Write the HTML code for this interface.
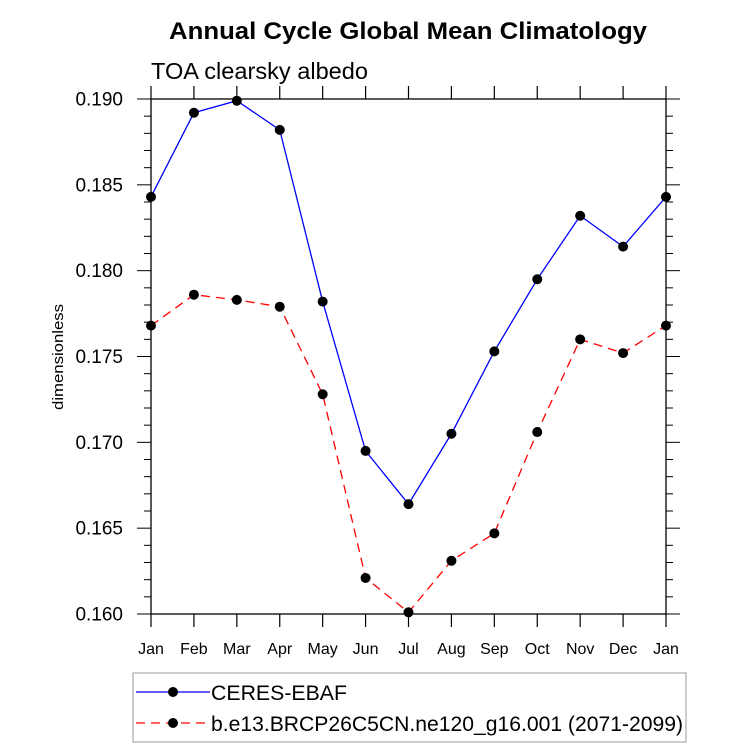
<!DOCTYPE html>
<html><head><meta charset="utf-8"><style>
body{margin:0;background:#fff;}
text{font-family:"Liberation Sans",Arial,sans-serif;}
</style></head><body>
<svg id="chart" width="733" height="748" xmlns="http://www.w3.org/2000/svg">
<text x="169" y="39" font-size="24" font-weight="bold" textLength="478" lengthAdjust="spacingAndGlyphs">Annual Cycle Global Mean Climatology</text>
<text x="151" y="79" font-size="23" textLength="217" lengthAdjust="spacingAndGlyphs">TOA clearsky albedo</text>
<text transform="translate(63,357) rotate(-90)" text-anchor="middle" font-size="15" textLength="106" lengthAdjust="spacingAndGlyphs">dimensionless</text>
<g id="axes"></g>
<g id="series"></g>
<g>
<rect x="133" y="673" width="553" height="69" fill="none" stroke="#999" stroke-width="1"/>
<g>
<line x1="136" y1="692" x2="210" y2="692" stroke="#00f" stroke-width="1.3"/>
<circle cx="173" cy="692" r="5" fill="#000"/>
<text x="211" y="700" font-size="21" textLength="136" lengthAdjust="spacingAndGlyphs">CERES-EBAF</text>
</g>
<g>
<line x1="136" y1="723" x2="210" y2="723" stroke="#f00" stroke-width="1.3" stroke-dasharray="9,6"/>
<circle cx="173" cy="723" r="5" fill="#000"/>
<text x="211" y="731" font-size="21" textLength="472" lengthAdjust="spacingAndGlyphs">b.e13.BRCP26C5CN.ne120_g16.001 (2071-2099)</text>
</g>
</g>
</svg>
<script>
const months = ["Jan","Feb","Mar","Apr","May","Jun","Jul","Aug","Sep","Oct","Nov","Dec","Jan"];
const ceres = [0.1843,0.1892,0.1899,0.1882,0.1782,0.1695,0.1664,0.1705,0.1753,0.1795,0.1832,0.1814,0.1843];
const model = [0.1768,0.1786,0.1783,0.1779,0.1728,0.1621,0.1601,0.1631,0.1647,0.1706,0.1760,0.1752,0.1768];
const yTicks = [0.160,0.165,0.170,0.175,0.180,0.185,0.190];
const yMin = 0.160, yMax = 0.190;
const L=151,R=666,T=99,B=614;
const NS="http://www.w3.org/2000/svg";
const xs = i => L + i*(R-L)/(months.length-1);
const ys = v => B - (v-yMin)/(yMax-yMin)*(B-T);
function mk(tag,attrs,parent){const e=document.createElementNS(NS,tag);for(const k in attrs)e.setAttribute(k,attrs[k]);parent.appendChild(e);return e;}
const ax=document.getElementById('axes');
const frame=mk('rect',{x:L,y:T,width:R-L,height:B-T,fill:'none',stroke:'#000','stroke-width':1.3},ax);


months.forEach((m,i)=>{
  const x=xs(i);
  const tb=mk('line',{x1:x,y1:B,x2:x,y2:B+13,stroke:'#000','stroke-width':1.2},ax);
  
  
  const tt=mk('line',{x1:x,y1:T,x2:x,y2:T-13,stroke:'#000','stroke-width':1.2},ax);
  
  
  const t=mk('text',{x:x,y:654,'text-anchor':'middle','font-size':16},ax);
  t.textContent=m;
  
  
});
for(let k=0;k<=30;k++){
  const v=yMin+k*0.001, y=ys(v), major=(k%5===0), len=major?14:7;
  const a=mk('line',{x1:L,y1:y,x2:L-len,y2:y,stroke:'#000','stroke-width':1},ax);
  
  
  const b=mk('line',{x1:R,y1:y,x2:R+len,y2:y,stroke:'#000','stroke-width':1},ax);
  
  
}
yTicks.forEach(v=>{
  const t=mk('text',{x:123,y:ys(v)+6.5,'text-anchor':'end','font-size':19},ax);
  t.textContent=v.toFixed(3);
  
  
});
const sg=document.getElementById('series');
function drawSeries(data,color,dash,name){
  const g=mk('g',{},sg);
  
  
  const p=mk('polyline',{points:data.map((v,i)=>xs(i)+','+ys(v)).join(' '),fill:'none',stroke:color,'stroke-width':1.3},g);
  if(dash)p.setAttribute('stroke-dasharray',dash);
  
  
  data.forEach((v,i)=>{
    const c=mk('circle',{cx:xs(i),cy:ys(v),r:5,fill:'#000'},g);
    
    
  });
}
drawSeries(model,'#f00','9,6','model-series');
drawSeries(ceres,'#00f',null,'ceres-series');
</script>
</body></html>
